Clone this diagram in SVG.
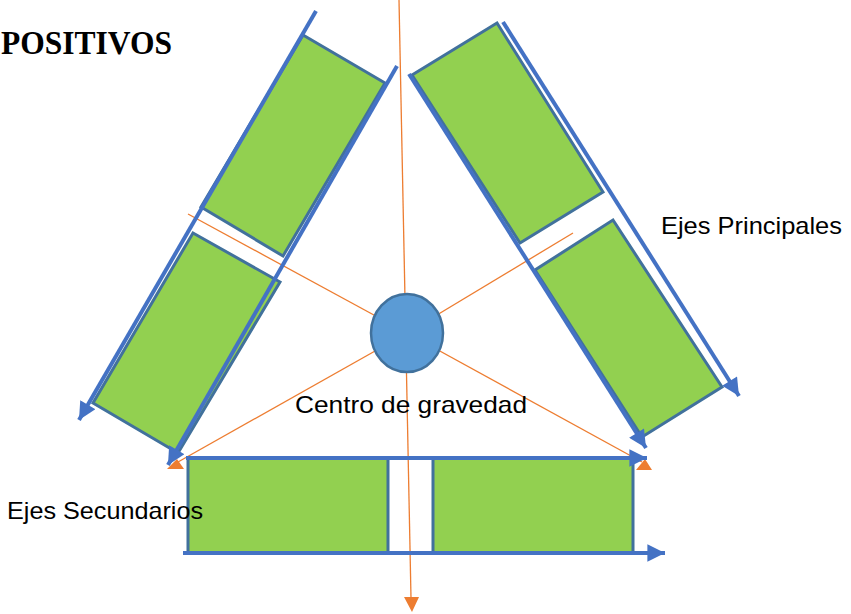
<svg xmlns="http://www.w3.org/2000/svg" width="851" height="614" viewBox="0 0 851 614">
<style>
.blk{fill:#92D050;stroke:#41719C;stroke-width:3;stroke-linejoin:miter}
.ax{fill:none;stroke:#4472C4;stroke-width:4;marker-end:url(#ba)}
.or{fill:none;stroke:#ED7D31;stroke-width:1.3}
.orh{fill:#ED7D31}
.lbl{font-family:"Liberation Sans",Arial,sans-serif;font-size:24px;fill:#000}
.ttl{font-family:"Liberation Serif","Times New Roman",serif;font-size:33px;font-weight:bold;fill:#000}
</style>
<defs>
<marker id="ba" viewBox="0 0 10 10" refX="10" refY="5" markerWidth="4.6" markerHeight="4.4" orient="auto" markerUnits="strokeWidth">
<path d="M0,0 L10,5 L0,10 z" fill="#4472C4"/>
</marker>
</defs>
<rect width="851" height="614" fill="#fff"/>
<g id="bloque-izq-sup"><polygon class="blk" points="303,35 385,83 283,256 201,207"/></g>
<g id="bloque-izq-inf"><polygon class="blk" points="193,233 280,282 178,453 93,403"/></g>
<g id="bloque-der-sup"><polygon class="blk" points="412,75 497,23 603,192 520,243"/></g>
<g id="bloque-der-inf"><polygon class="blk" points="613,220 722,387 642,437 535,270"/></g>
<g id="bloque-inf-izq"><rect class="blk" x="188" y="458" width="200" height="95"/></g>
<g id="bloque-inf-der"><rect class="blk" x="433" y="458" width="200" height="95"/></g>
<g id="conectores">
<line class="or" x1="399" y1="0" x2="411" y2="598"/>
<path class="orh" d="M404,597 L419,597 L412,612 z"/>
<line class="or" x1="188" y1="214" x2="407" y2="333"/>
<line class="or" x1="573" y1="233" x2="407" y2="333"/>
<line class="or" x1="407" y1="333" x2="178" y2="462"/>
<line class="or" x1="407" y1="333" x2="642" y2="462"/>
<path class="orh" d="M167,469 L177,459 L184,469 z"/>
<path class="orh" d="M636,470 L645,459 L652,470 z"/>
<line class="ax" x1="316" y1="11" x2="79" y2="420"/>
<line class="ax" x1="397" y1="66" x2="168" y2="465"/>
<line class="ax" x1="409" y1="74" x2="646" y2="448"/>
<line class="ax" x1="503" y1="22" x2="739" y2="396"/>
<line class="ax" x1="186" y1="458" x2="647" y2="458"/>
<line class="ax" x1="183" y1="553" x2="665" y2="553"/>
</g>
<g id="centro-gravedad"><ellipse cx="407" cy="333" rx="36" ry="39" fill="#5B9BD5" stroke="#41719C" stroke-width="2.5"/></g>
<g id="textos">
<text class="ttl" x="1" y="54" textLength="171" lengthAdjust="spacingAndGlyphs">POSITIVOS</text>
<text class="lbl" x="661" y="234" textLength="181" lengthAdjust="spacingAndGlyphs">Ejes Principales</text>
<text class="lbl" x="295" y="413" textLength="232" lengthAdjust="spacingAndGlyphs">Centro de gravedad</text>
<text class="lbl" x="7" y="519" textLength="196" lengthAdjust="spacingAndGlyphs">Ejes Secundarios</text>
</g>
</svg>
